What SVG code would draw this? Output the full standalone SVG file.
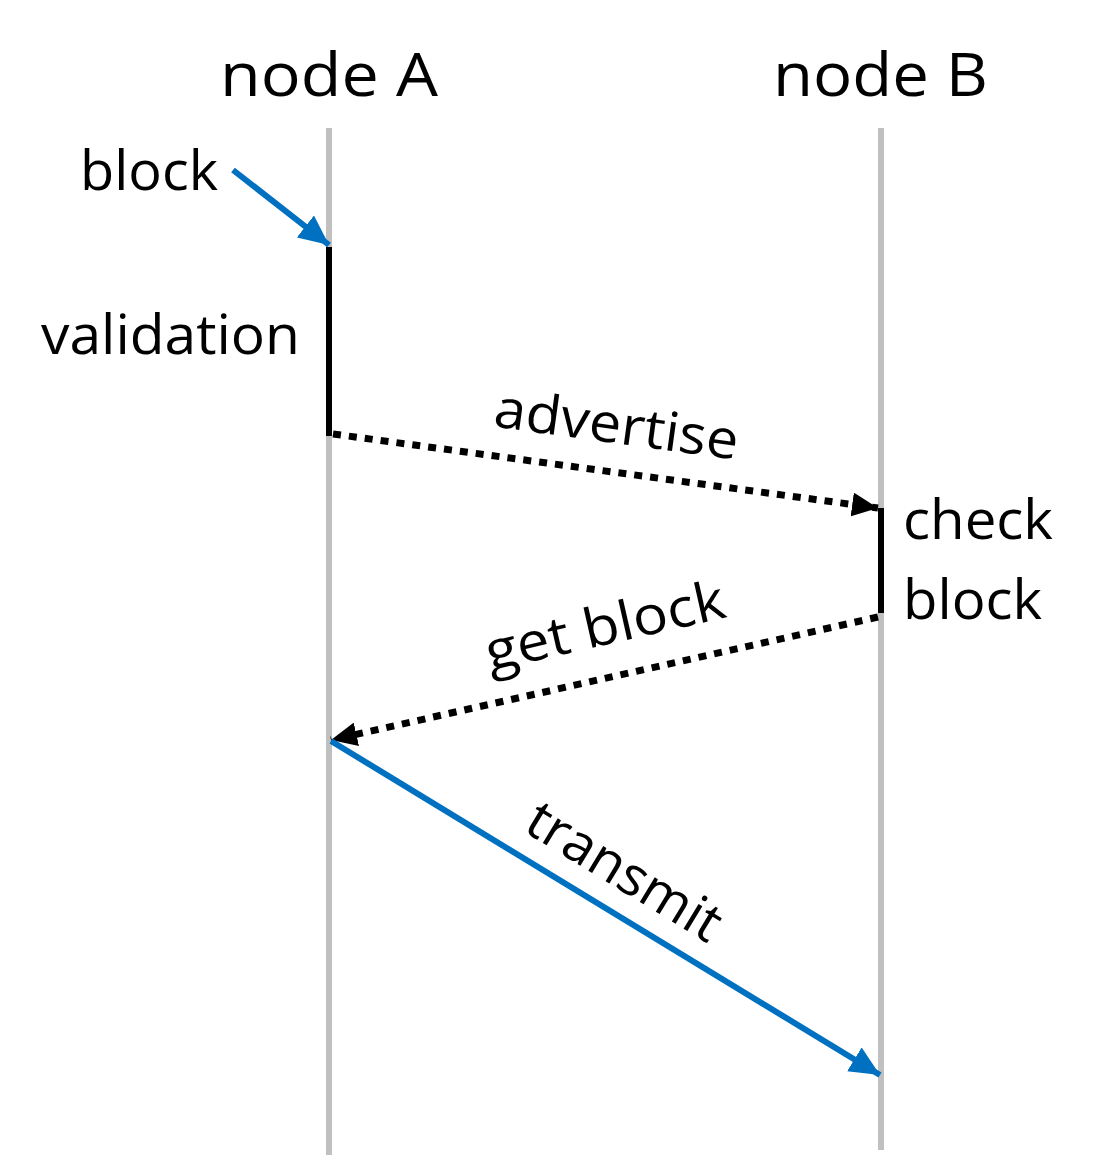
<svg xmlns="http://www.w3.org/2000/svg" width="1097" height="1161" viewBox="0 0 1097 1161">
<style>
.lbl{font-family:"Open Sans","Noto Sans",sans-serif;font-size:54px;fill:#000}
.head{font-size:60px}
.life{stroke:#c0c0c0;stroke-width:6;fill:none}
.act{stroke:#000;stroke-width:6;fill:none}
.dot{stroke:#000;stroke-width:7;stroke-dasharray:8 8;fill:none}
.blue{stroke:#0070c0;stroke-width:6;fill:none}
</style>
<defs>
<marker id="ah" markerUnits="userSpaceOnUse" markerWidth="28" markerHeight="24" refX="26" refY="12" orient="auto"><path d="M0,0 L26,12 L0,24 z" fill="#000"/></marker>
<marker id="ahb" markerUnits="userSpaceOnUse" markerWidth="32" markerHeight="28" refX="30" refY="14" orient="auto"><path d="M0,0 L30,14 L0,28 z" fill="#0070c0"/></marker>
</defs>
<g id="nodeA">
<line class="life" x1="329" y1="128" x2="329" y2="1155"/>
<text class="lbl head" x="220" y="96" textLength="218" lengthAdjust="spacingAndGlyphs">node A</text>
<line class="act" x1="329" y1="247" x2="329" y2="436"/>
<text class="lbl" x="41" y="354" textLength="259" lengthAdjust="spacingAndGlyphs">validation</text>
</g>
<g id="nodeB">
<line class="life" x1="881" y1="128" x2="881" y2="1150"/>
<text class="lbl head" x="773" y="96" textLength="215" lengthAdjust="spacingAndGlyphs">node B</text>
<line class="act" x1="881" y1="508" x2="881" y2="613"/>
<text class="lbl" x="903" y="539" textLength="150" lengthAdjust="spacingAndGlyphs">check</text>
<text class="lbl" x="903" y="619" textLength="139" lengthAdjust="spacingAndGlyphs">block</text>
</g>
<g id="input">
<text class="lbl" x="80" y="190" textLength="138" lengthAdjust="spacingAndGlyphs">block</text>
</g>
<g id="connectors">
<line class="blue" x1="233" y1="170" x2="329" y2="245" marker-end="url(#ahb)"/>
<line class="dot" x1="333" y1="434" x2="878" y2="508" marker-end="url(#ah)"/>
<line class="dot" x1="878" y1="617" x2="331" y2="740" marker-end="url(#ah)"/>
<line class="blue" x1="331" y1="741" x2="880" y2="1075" marker-end="url(#ahb)"/>
<text class="lbl" x="0" y="0" text-anchor="middle" textLength="246" lengthAdjust="spacingAndGlyphs" transform="translate(614,443) rotate(7.8)">advertise</text>
<text class="lbl" x="0" y="0" text-anchor="middle" textLength="244" lengthAdjust="spacingAndGlyphs" transform="translate(609,644) rotate(-12.8)">get block</text>
<text class="lbl" x="0" y="0" text-anchor="middle" textLength="218" lengthAdjust="spacingAndGlyphs" transform="translate(615,887) rotate(31.3)">transmit</text>
</g>
</svg>
